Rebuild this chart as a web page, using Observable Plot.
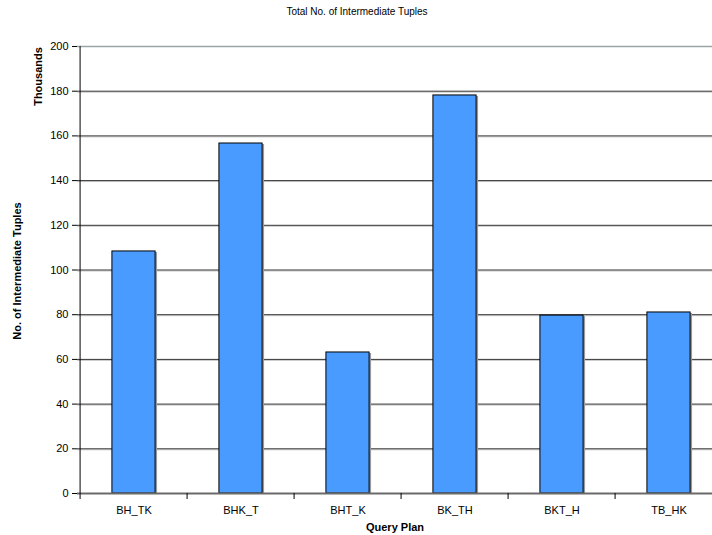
<!DOCTYPE html>
<html>
<head>
<meta charset="utf-8">
<script src="https://cdn.jsdelivr.net/npm/d3@7"></script>
<script src="https://cdn.jsdelivr.net/npm/@observablehq/plot@0.6"></script>
<style>
  body { margin: 0; background: #fff; font-family: "Liberation Sans", Arial, sans-serif; }
  #title { height: 24px; line-height: 24px; text-align: center; font-size: 10px; color: #000; padding-left: 2px; }
</style>
</head>
<body>
<div id="title">Total No. of Intermediate Tuples</div>
<div id="chart"></div>
<script>
const categories = ["BH_TK", "BHK_T", "BHT_K", "BK_TH", "BKT_H", "TB_HK"];
const values = [108.3, 156.6, 63.1, 178.1, 79.6, 81.0];
const yTicks = [0, 20, 40, 60, 80, 100, 120, 140, 160, 180, 200];

const data = categories.map((c, i) => ({plan: c, value: values[i]}));
const innerGrid = yTicks.filter(t => t > 0 && t < 200);

const xRange = [77, 724];
const band = (xRange[1] - xRange[0]) / categories.length;
const barInset = (band - 44) / 2;

const chart = Plot.plot({
  width: 712,
  height: 511,
  marginLeft: 77,
  marginRight: 0,
  marginTop: 22,
  marginBottom: 42,
  style: {fontFamily: "'Liberation Sans', Arial, sans-serif", fontSize: "11px", color: "#000", background: "#fff", overflow: "hidden"},
  x: {domain: categories, range: xRange, padding: 0, axis: null},
  y: {type: "linear", domain: [0, 200], axis: null},
  marks: [
    Plot.ruleY(innerGrid, {y: d => d, dy: 1, stroke: "#c8c8c8", strokeWidth: 1}),
    Plot.ruleY(innerGrid, {y: d => d, stroke: "#333", strokeWidth: 1}),
    Plot.ruleY([yTicks[yTicks.length - 1]], {y: d => d, stroke: "#9aa6a6", strokeWidth: 1.5}),
    Plot.barY(data, {x: "plan", y: "value", fill: "#999", insetLeft: barInset + 2, insetRight: barInset - 2, dy: 1}),
    Plot.barY(data, {x: "plan", y: "value", fill: "#4a9bff", stroke: "#000", strokeWidth: 1, insetLeft: barInset, insetRight: barInset}),
    Plot.ruleY([0], {stroke: "#6a6a6a", strokeWidth: 2}),
    Plot.ruleX([categories[0]], {x: d => d, dx: -band / 2, y1: 0, y2: 200, stroke: "#000", strokeWidth: 1}),
    Plot.axisY(yTicks, {anchor: "left", tickSize: 5, tickPadding: 4, label: null, fontSize: 11, stroke: "#000"}),
    Plot.ruleX(categories, {x: d => d, dx: -band / 2, y1: 0, y2: 0, insetBottom: -6, stroke: "#000"}),
    Plot.axisX(categories, {anchor: "bottom", tickSize: 0, tickPadding: 13, label: null, fontSize: 11}),
    Plot.text(["Query Plan"], {frameAnchor: "bottom", dy: 37, fontWeight: "bold", fontSize: 11}),
    Plot.text(["No. of Intermediate Tuples"], {frameAnchor: "left", textAnchor: "middle", lineAnchor: "middle", dx: -60, dy: 1, rotate: -90, fontWeight: "bold", fontSize: 11}),
    Plot.text(["Thousands"], {frameAnchor: "top-left", textAnchor: "middle", lineAnchor: "middle", dx: -39, dy: 30, rotate: -90, fontWeight: "bold", fontSize: 11})
  ]
});
document.getElementById("chart").appendChild(chart);
</script>
</body>
</html>
